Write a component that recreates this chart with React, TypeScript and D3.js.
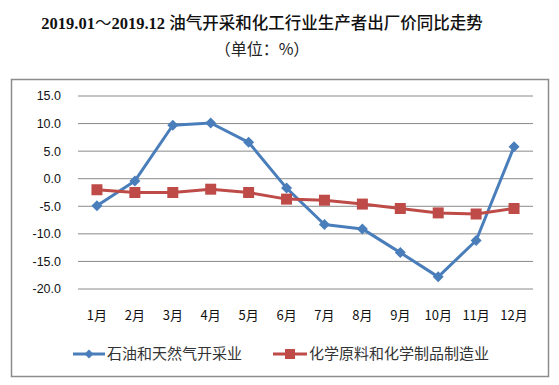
import React from "react";
import * as d3 from "d3";

const months = ["1月", "2月", "3月", "4月", "5月", "6月", "7月", "8月", "9月", "10月", "11月", "12月"];
const oilGas = [-4.9, -0.4, 9.7, 10.1, 6.6, -1.7, -8.3, -9.1, -13.4, -17.8, -11.2, 5.8];
const chemical = [-2.0, -2.5, -2.5, -1.9, -2.5, -3.7, -3.9, -4.6, -5.4, -6.2, -6.4, -5.4];
const yTicks = [15, 10, 5, 0, -5, -10, -15, -20];
const seriesNames = ["石油和天然气开采业", "化学原料和化学制品制造业"];

const W = 559;
const H = 385;
const BLUE = "#4a7ebb";
const RED = "#be4b48";

export default function App() {
  const x = d3.scaleBand<string>().domain(months).range([78, 533]);
  const y = d3.scaleLinear().domain([-20, 15]).range([289, 96]);
  const cx = (m: string) => (x(m) as number) + x.bandwidth() / 2;
  const line = d3
    .line<number>()
    .x((_, i) => cx(months[i]))
    .y((d) => y(d));
  const tickFont = "'Liberation Sans', Arial, sans-serif";
  const cjk = "'Noto Sans CJK SC', sans-serif";
  const serif = "'Liberation Serif', 'Times New Roman', serif";

  const diamond = (px: number, py: number, r: number) =>
    `M${px},${py - r}L${px + r},${py}L${px},${py + r}L${px - r},${py}Z`;

  return (
    <svg
      width={W}
      height={H}
      style={{ position: "absolute", left: 0, top: 0, background: "#fff" }}
    >
      <rect x={0} y={0} width={W} height={H} fill="#fff" />
      <text x={262} y={29} textAnchor="middle" fontSize={16.5} fontWeight="bold" fill="#111">
        <tspan fontFamily={serif}>2019.01</tspan>
        <tspan fontFamily={cjk} fontWeight={400}>～</tspan>
        <tspan fontFamily={serif}>2019.12 </tspan>
        <tspan fontFamily={cjk} fontWeight={500}>油气开采和化工行业生产者出厂价同比走势</tspan>
      </text>
      <text x={262} y={55} textAnchor="middle" fontSize={16} fontFamily={cjk} fill="#222">
        （单位：%）
      </text>
      <rect x={11.5} y={79.5} width={537} height={297} fill="#fff" stroke="#8c8c8c" strokeWidth={1.5} />
      {yTicks.map((t) => (
        <g key={t}>
          <line x1={78} x2={533} y1={y(t)} y2={y(t)} stroke="#8a8a8a" strokeWidth={1} />
          <text
            x={61}
            y={y(t)}
            dy="0.35em"
            textAnchor="end"
            fontSize={12.5}
            fontFamily={tickFont}
            fill="#111"
          >
            {t.toFixed(1)}
          </text>
        </g>
      ))}
      {months.map((m) => (
        <text
          key={m}
          x={cx(m)}
          y={315}
          dy="0.35em"
          textAnchor="middle"
          fontSize={13}
          fontFamily={cjk}
          fill="#111"
        >
          {m}
        </text>
      ))}
      <path d={line(oilGas) || ""} fill="none" stroke={BLUE} strokeWidth={3} strokeLinejoin="round" />
      {oilGas.map((v, i) => (
        <path key={i} d={diamond(cx(months[i]), y(v), 5.5)} fill={BLUE} />
      ))}
      <path d={line(chemical) || ""} fill="none" stroke={RED} strokeWidth={3} strokeLinejoin="round" />
      {chemical.map((v, i) => (
        <rect key={i} x={cx(months[i]) - 5.5} y={y(v) - 5.5} width={11} height={11} fill={RED} />
      ))}
      <g>
        <line x1={73} x2={105} y1={354} y2={354} stroke={BLUE} strokeWidth={3} />
        <path d={diamond(89, 354, 4.5)} fill={BLUE} />
        <text x={107} y={354} dy="0.35em" fontSize={15} fontFamily={cjk} fill="#333">
          {seriesNames[0]}
        </text>
        <line x1={273} x2={307} y1={354} y2={354} stroke={RED} strokeWidth={3} />
        <rect x={285} y={349} width={10} height={10} fill={RED} />
        <text x={309} y={354} dy="0.35em" fontSize={15} fontFamily={cjk} fill="#333">
          {seriesNames[1]}
        </text>
      </g>
    </svg>
  );
}
